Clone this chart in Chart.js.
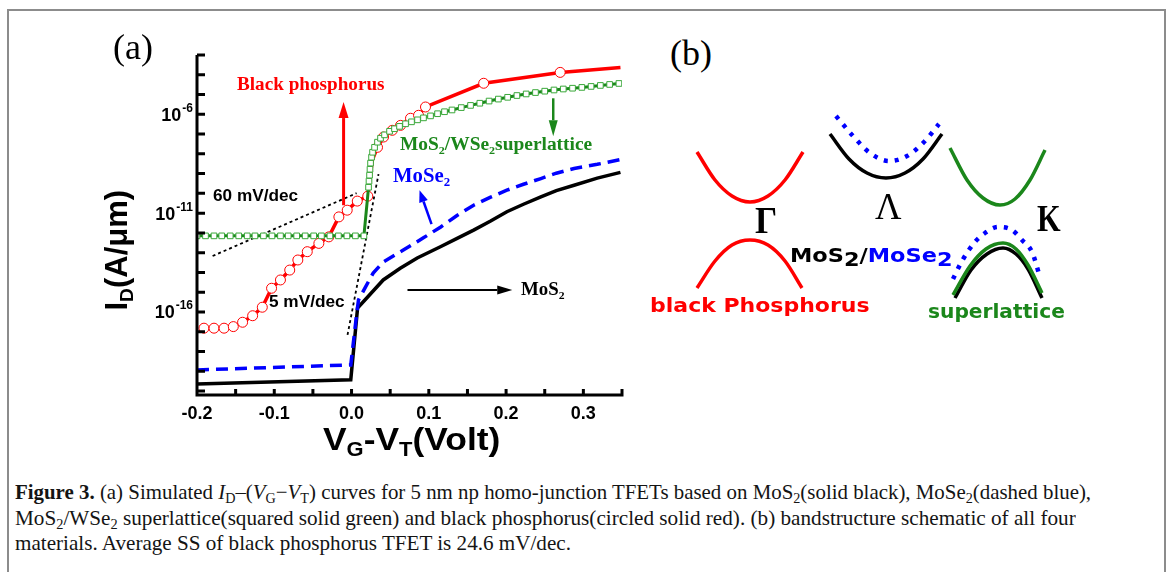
<!DOCTYPE html>
<html>
<head>
<meta charset="utf-8">
<script src="https://cdn.jsdelivr.net/npm/chart.js@4.4.1/dist/chart.umd.min.js"></script>
<style>
  html,body{margin:0;padding:0;background:#fff;}
  body{width:1170px;height:572px;position:relative;overflow:hidden;}
  #frame{position:absolute;left:7px;top:9px;width:1159px;height:620px;border:2px solid #8c8c8c;box-sizing:border-box;}
  canvas{position:absolute;}
  #ca{left:0;top:0;}
  #cb{left:640px;top:90px;}
  .t{position:absolute;white-space:nowrap;line-height:1;transform-origin:0 50%;}
  .serif{font-family:"Liberation Serif","Times New Roman",serif;}
  .sans{font-family:"Liberation Sans",Arial,sans-serif;}
  .dv{font-family:"DejaVu Sans",Verdana,sans-serif;}
  .t sub{font-size:62%;vertical-align:-0.32em;line-height:0;}
  .cap{position:absolute;left:15px;white-space:nowrap;font-size:21px;line-height:1;transform-origin:0 50%;font-family:"Liberation Serif","Times New Roman",serif;color:#141414;}
  .cap sub{font-size:68%;vertical-align:-0.28em;line-height:0;}
</style>
</head>
<body>
<div id="frame"></div>
<canvas id="ca" width="650" height="470"></canvas>
<canvas id="cb" width="440" height="250"></canvas>
<div id="labels"></div>
<div class="cap" id="cap1" style="top:482px" data-w="1076"><b>Figure 3.</b> (a) Simulated <i>I</i><sub>D</sub>–(<i>V</i><sub>G</sub>−<i>V</i><sub>T</sub>) curves for 5 nm np homo-junction TFETs based on MoS<sub>2</sub>(solid black), MoSe<sub>2</sub>(dashed blue),</div>
<div class="cap" id="cap2" style="top:508px" data-w="1061">MoS<sub>2</sub>/WSe<sub>2</sub> superlattice(squared solid green) and black phosphorus(circled solid red). (b) bandstructure schematic of all four</div>
<div class="cap" id="cap3" style="top:533px" data-w="556">materials. Average SS of black phosphorus TFET is 24.6 mV/dec.</div>

<script>
// ---------------- Panel (a) data: V_G - V_T (Volt) and log10 of I_D (A/µm) ----------------
const mos2Vg    = [-0.2, -0.001, 0.0078, 0.041, 0.063, 0.085, 0.115, 0.136, 0.158, 0.18, 0.201, 0.2225, 0.245, 0.265, 0.288, 0.318, 0.348];
const mos2LogId = [-19.64, -19.43, -15.80, -14.38, -13.79, -13.27, -12.70, -12.29, -11.86, -11.40, -10.93, -10.55, -10.18, -9.86, -9.59, -9.23, -8.94];

const mose2Vg    = [-0.2, -0.001, 0.0065, 0.009, 0.018, 0.028, 0.041, 0.067, 0.093, 0.115, 0.136, 0.158, 0.18, 0.201, 0.2225, 0.245, 0.265, 0.288, 0.318, 0.348];
const mose2LogId = [-18.93, -18.68, -16.15, -15.39, -14.74, -14.03, -13.47, -12.87, -12.25, -11.71, -11.13, -10.60, -10.19, -9.84, -9.54, -9.25, -8.98, -8.74, -8.53, -8.29];

const bpVg    = [-0.191, -0.178, -0.165, -0.153, -0.141, -0.128, -0.1155, -0.1035, -0.092, -0.080, -0.0695, -0.0573, -0.0423, -0.0294, -0.0164, -0.0056, 0.0074, 0.021, 0.027, 0.0336, 0.0414, 0.0527, 0.0634, 0.0763, 0.0867, 0.0957, 0.171, 0.270, 0.348];
const bpLogId = [-16.82, -16.82, -16.82, -16.74, -16.52, -16.19, -15.76, -14.80, -14.38, -13.88, -13.37, -12.95, -12.53, -12.20, -11.19, -10.85, -10.39, -10.14, -8.30, -7.67, -7.15, -6.81, -6.56, -6.20, -6.05, -5.63, -4.43, -3.88, -3.63];
const bpCircled = [1,1,1,1,1,1,1,1,1,1,1,1,1,1,1,1,1,1,0,1,1,1,1,1,1,1,1,1,0];

const slVg = [-0.2, -0.189, -0.178, -0.168, -0.157, -0.146, -0.135, -0.125, -0.114, -0.103, -0.092, -0.082, -0.071, -0.060, -0.049, -0.039, -0.028, -0.017, -0.006, 0.005, 0.016,
  0.022, 0.0226, 0.0233, 0.0239, 0.0246, 0.0259, 0.0272, 0.0298, 0.0336, 0.0375, 0.0427, 0.0492, 0.0556, 0.0621, 0.0699, 0.0776, 0.0854, 0.0931, 0.1022, 0.1113, 0.1203,
  0.13, 0.142, 0.154, 0.166, 0.178, 0.19, 0.202, 0.214, 0.226, 0.238, 0.25, 0.262, 0.274, 0.286, 0.298, 0.31, 0.322, 0.334, 0.346];
const slLogId = [-12.15, -12.15, -12.15, -12.15, -12.15, -12.15, -12.15, -12.15, -12.15, -12.15, -12.15, -12.15, -12.15, -12.15, -12.15, -12.15, -12.15, -12.15, -12.15, -12.15, -12.15,
  -9.69, -9.38, -9.08, -8.78, -8.47, -8.17, -7.92, -7.67, -7.41, -7.21, -7.04, -6.86, -6.73, -6.61, -6.48, -6.38, -6.28, -6.18, -6.08, -5.97, -5.87,
  -5.78, -5.66, -5.55, -5.44, -5.33, -5.23, -5.14, -5.05, -4.97, -4.90, -4.83, -4.77, -4.72, -4.68, -4.64, -4.59, -4.54, -4.49, -4.44];

// subthreshold-swing guide lines (V, log10 I)
const guide60Vg = [-0.1798, 0.0065];
const guide60LogId = [-13.17, -9.99];
const guide5Vg = [-0.0052, 0.0349];
const guide5LogId = [-17.16, -9.03];

// axis ticks
const xTickValues = [-0.2, -0.15, -0.1, -0.05, 0, 0.05, 0.1, 0.15, 0.2, 0.25, 0.3, 0.35];
const xLabelValues = [-0.2, -0.1, 0.0, 0.1, 0.2, 0.3];
const xLabelTexts = ['-0.2', '-0.1', '0.0', '0.1', '0.2', '0.3'];
const yDecades = [-20, -19, -18, -17, -16, -15, -14, -13, -12, -11, -10, -9, -8, -7, -6, -5, -4, -3];
const yLabelExps = [-6, -11, -16];

// annotation arrows in data units: [Vstart, logStart, Vend, logEnd]
const arrowRed   = [-0.0103, -10.60, -0.0103, -5.38];
const arrowGreen = [0.261, -5.19, 0.261, -7.11];
const arrowBlue  = [0.1035, -11.56, 0.088, -9.84];
const arrowBlack = [0.0724, -14.89, 0.208, -14.89];

// ---------------- Panel (b) schematic bands: k (arb.) and E (arb.) ----------------
const gammaCBk = [5.7, 7.5, 9.2, 11.0, 12.8, 14.5, 16.3];
const gammaCBe = [18.8, 16.0, 14.4, 13.8, 14.4, 16.0, 18.8];
const gammaVBk = [5.7, 7.5, 9.2, 11.0, 12.8, 14.5, 16.2];
const gammaVBe = [5.2, 7.9, 9.5, 10.0, 9.5, 7.9, 5.2];
const lambdaMoS2k = [19.0, 20.9, 22.7, 24.6, 26.5, 28.3, 30.2];
const lambdaMoS2e = [20.6, 18.1, 16.7, 16.2, 16.7, 18.1, 20.6];
const lambdaMoSe2k = [19.6, 21.3, 23.0, 24.9, 26.7, 28.4, 29.9];
const lambdaMoSe2e = [22.4, 20.4, 18.7, 17.9, 18.4, 19.8, 21.6];
const kCBslk = [31.0, 32.7, 34.3, 36.0, 37.5, 39.0, 40.5];
const kCBsle = [19.2, 16.0, 14.2, 13.5, 14.1, 16.0, 19.0];
const kVBslk = [31.3, 33.0, 34.6, 36.3, 37.6, 38.8, 40.2];
const kVBsle = [4.5, 7.4, 9.1, 9.7, 9.1, 7.5, 4.7];
const kVBmos2k = [31.5, 33.1, 34.7, 36.3, 37.6, 38.8, 40.2];
const kVBmos2e = [4.2, 7.0, 8.6, 9.2, 8.6, 7.1, 4.2];
const kVBmose2k = [31.3, 32.2, 33.5, 34.5, 35.8, 37.2, 38.2, 39.2, 40.0];
const kVBmose2e = [6.1, 7.9, 9.8, 10.7, 11.3, 11.0, 10.0, 8.8, 6.3];

// ---------------- helpers ----------------
const RED = '#ff0000', GREEN = '#1b871b', BLUE = '#0000ff', BLACK = '#000000';
const toPts = (xs, logs) => xs.map((v, i) => ({x: v, y: Math.pow(10, logs[i])}));
const toXY = (xs, ys) => xs.map((v, i) => ({x: v, y: ys[i]}));

function drawArrow(ctx, x1, y1, x2, y2, color, w, hl, hw) {
  const a = Math.atan2(y2 - y1, x2 - x1);
  const bx = x2 - hl * Math.cos(a), by = y2 - hl * Math.sin(a);
  ctx.strokeStyle = color; ctx.lineWidth = w; ctx.lineCap = 'butt';
  ctx.beginPath(); ctx.moveTo(x1, y1); ctx.lineTo(bx, by); ctx.stroke();
  ctx.fillStyle = color;
  ctx.beginPath(); ctx.moveTo(x2, y2);
  ctx.lineTo(bx + hw * Math.sin(a), by - hw * Math.cos(a));
  ctx.lineTo(bx - hw * Math.sin(a), by + hw * Math.cos(a));
  ctx.closePath(); ctx.fill();
}

const axesPlugin = {
  id: 'axesA',
  afterDatasetsDraw(chart) {
    const {ctx, scales: {x, y}} = chart;
    const P = (arr) => [x.getPixelForValue(arr[0]), y.getPixelForValue(Math.pow(10, arr[1])), x.getPixelForValue(arr[2]), y.getPixelForValue(Math.pow(10, arr[3]))];
    ctx.save();
    let a = P(arrowRed);   drawArrow(ctx, a[0], a[1], a[2], a[3], RED, 3, 16, 5);
    a = P(arrowGreen);     drawArrow(ctx, a[0], a[1], a[2], a[3], GREEN, 2.5, 16, 4.5);
    a = P(arrowBlue);      drawArrow(ctx, a[0], a[1], a[2], a[3], BLUE, 2.5, 12, 4.5);
    a = P(arrowBlack);     drawArrow(ctx, a[0], a[1], a[2], a[3], BLACK, 2, 15, 4.5);
    ctx.restore();
  },
  afterDraw(chart) {
    const {ctx, chartArea: {left, right, top, bottom}, scales: {x, y}} = chart;
    ctx.save();
    ctx.strokeStyle = '#000'; ctx.lineWidth = 3; ctx.lineCap = 'butt';
    ctx.beginPath();
    ctx.moveTo(left, top); ctx.lineTo(left, bottom + 1.5);
    ctx.moveTo(left - 1.5, bottom); ctx.lineTo(right + 1.5, bottom);
    for (const k of yDecades) {
      const py = y.getPixelForValue(Math.pow(10, k));
      ctx.moveTo(left, py); ctx.lineTo(left + 8, py);
    }
    for (const v of xTickValues) {
      const px = x.getPixelForValue(v);
      ctx.moveTo(px, bottom); ctx.lineTo(px, bottom - 6);
    }
    ctx.stroke();
    ctx.fillStyle = '#000';
    ctx.font = 'bold 18px "Liberation Sans", Arial, sans-serif';
    ctx.textAlign = 'center'; ctx.textBaseline = 'alphabetic';
    xLabelValues.forEach((v, i) => ctx.fillText(xLabelTexts[i], x.getPixelForValue(v), bottom + 24));
    for (const k of yLabelExps) {
      const py = y.getPixelForValue(Math.pow(10, k));
      const exp = String(k);
      ctx.font = 'bold 12px "Liberation Sans", Arial, sans-serif';
      ctx.textAlign = 'right';
      const ew = ctx.measureText(exp).width;
      ctx.fillText(exp, left - 4, py - 2.5);
      ctx.font = 'bold 18px "Liberation Sans", Arial, sans-serif';
      ctx.fillText('10', left - 5 - ew, py + 6.5);
    }
    ctx.restore();
  }
};

// ---------------- Panel (a) chart ----------------
new Chart(document.getElementById('ca'), {
  type: 'line',
  data: {
    datasets: [
      { label: 'MoS2/WSe2 superlattice', data: toPts(slVg, slLogId), borderColor: GREEN, borderWidth: 3, tension: 0,
        pointStyle: 'rect', pointRadius: 4, pointBorderWidth: 1, pointBorderColor: '#3aa83a', pointBackgroundColor: '#ffffff' },
      { label: 'Black phosphorus', data: toPts(bpVg, bpLogId), borderColor: RED, borderWidth: 3.5, tension: 0,
        pointStyle: 'circle', pointRadius: bpCircled.map(c => c ? 5 : 0), pointBorderWidth: 1, pointBorderColor: RED, pointBackgroundColor: '#ffffff' },
      { label: 'MoSe2', data: toPts(mose2Vg, mose2LogId), borderColor: BLUE, borderWidth: 3.5, borderDash: [12, 7],
        tension: 0, pointRadius: 0 },
      { label: 'MoS2', data: toPts(mos2Vg, mos2LogId), borderColor: BLACK, borderWidth: 3.5,
        tension: 0, pointRadius: 0 },
      { label: '60 mV/dec', data: toPts(guide60Vg, guide60LogId), borderColor: '#000', borderWidth: 1.8, borderDash: [3, 3], pointRadius: 0 },
      { label: '5 mV/dec', data: toPts(guide5Vg, guide5LogId), borderColor: '#000', borderWidth: 1.8, borderDash: [3, 3], pointRadius: 0 }
    ]
  },
  options: {
    responsive: false, animation: false, events: [],
    layout: { padding: { top: 55, right: 28, left: 0, bottom: 0 } },
    plugins: { legend: { display: false }, tooltip: { enabled: false } },
    scales: {
      x: { type: 'linear', min: -0.2, max: 0.35, ticks: { display: false }, grid: { display: false }, border: { display: false },
           afterFit: s => { s.height = 75; } },
      y: { type: 'logarithmic', min: Math.pow(10, -20.2), max: 1e-3, ticks: { display: false }, grid: { display: false }, border: { display: false },
           afterFit: s => { s.width = 197; } }
    }
  },
  plugins: [axesPlugin]
});

// ---------------- Panel (b) chart ----------------
const band = (k, e, color, extra) => Object.assign({ data: toXY(k, e), borderColor: color, borderWidth: 3.5, pointRadius: 0, cubicInterpolationMode: 'monotone' }, extra || {});
new Chart(document.getElementById('cb'), {
  type: 'line',
  data: {
    datasets: [
      band(lambdaMoSe2k, lambdaMoSe2e, BLUE, { borderWidth: 4.5, borderDash: [4, 7] }),
      band(kVBmose2k, kVBmose2e, BLUE, { borderWidth: 4.5, borderDash: [4, 7] }),
      band(kVBslk, kVBsle, GREEN),
      band(kVBmos2k, kVBmos2e, BLACK),
      band(lambdaMoS2k, lambdaMoS2e, BLACK),
      band(kCBslk, kCBsle, GREEN),
      band(gammaCBk, gammaCBe, RED),
      band(gammaVBk, gammaVBe, RED)
    ]
  },
  options: {
    responsive: false, animation: false, events: [],
    layout: { padding: 0 },
    plugins: { legend: { display: false }, tooltip: { enabled: false } },
    scales: { x: { type: 'linear', display: false, min: 0, max: 44 }, y: { type: 'linear', display: false, min: 0, max: 25 } }
  }
});

// ---------------- text labels ----------------
const labelSpecs = [
  { h: '(a)', x: 113, cy: 50, size: 36, cls: 'serif', color: '#000', k: 0.58 },
  { h: '(b)', x: 670, cy: 56, size: 36, cls: 'serif', color: '#000', k: 0.58 },
  { h: 'Black phosphorus', x: 237, cy: 83.5, size: 18, cls: 'serif', bold: 1, color: RED, w: 148 },
  { h: 'MoS<sub>2</sub>/WSe<sub>2</sub>superlattice', x: 400, cy: 143.5, size: 18, cls: 'serif', bold: 1, color: GREEN, w: 192 },
  { h: 'MoSe<sub>2</sub>', x: 393, cy: 175, size: 20, cls: 'serif', bold: 1, color: BLUE, w: 57 },
  { h: 'MoS<sub>2</sub>', x: 521, cy: 288.5, size: 18, cls: 'serif', bold: 1, color: '#000', w: 44 },
  { h: '60 mV/dec', x: 213, cy: 195.5, size: 17, cls: 'sans', bold: 1, color: '#000', w: 85 },
  { h: '5 mV/dec', x: 269, cy: 301.5, size: 17, cls: 'sans', bold: 1, color: '#000', w: 76 },
  { h: 'Γ', x: 755, cy: 219.5, size: 38, cls: 'serif', bold: 1, color: '#000', w: 22 },
  { h: 'Λ', x: 875, cy: 205.5, size: 38, cls: 'serif', color: '#000', w: 27 },
  { h: 'K', x: 1037, cy: 217.5, size: 38, cls: 'serif', bold: 1, color: '#000', w: 24 },
  { h: 'MoS<span style="vertical-align:-4px">2</span>/<span style="color:#0000ff">MoSe<span style="vertical-align:-4px">2</span></span>', x: 790, cy: 255, size: 19, cls: 'dv', bold: 1, color: '#000', w: 163 },
  { h: 'black Phosphorus', x: 650, cy: 305, size: 19, cls: 'dv', bold: 1, color: RED, w: 220 },
  { h: 'superlattice', x: 928, cy: 311, size: 19, cls: 'dv', bold: 1, color: GREEN, w: 137 },
  { h: 'V<sub>G</sub>-V<sub>T</sub>(Volt)', x: 323, cy: 439, size: 32, cls: 'sans', bold: 1, color: '#000', w: 177 }
];
const host = document.getElementById('labels');
for (const s of labelSpecs) {
  const d = document.createElement('div');
  d.className = 't ' + s.cls;
  d.innerHTML = s.h;
  d.style.left = s.x + 'px';
  d.style.top = (s.cy - (s.k || 0.5) * s.size) + 'px';
  d.style.fontSize = s.size + 'px';
  d.style.fontWeight = s.bold ? 'bold' : 'normal';
  d.style.color = s.color;
  host.appendChild(d);
  if (s.w) d.style.transform = 'scaleX(' + (s.w / d.offsetWidth) + ')';
}
// rotated y-axis title
const yt = document.createElement('div');
yt.className = 't sans';
yt.innerHTML = 'I<sub>D</sub>(A/μm)';
yt.style.cssText += 'font-size:31px;font-weight:bold;color:#000;left:116px;top:250px;transform-origin:0 0;';
host.appendChild(yt);
yt.style.transform = 'rotate(-90deg) translate(' + (-yt.offsetWidth / 2) + 'px,' + (-yt.offsetHeight / 2) + 'px)';

// caption lines fitted to their measured widths
for (const id of ['cap1', 'cap2', 'cap3']) {
  const el = document.getElementById(id);
  el.style.transform = 'scaleX(' + (parseFloat(el.dataset.w) / el.offsetWidth) + ')';
}
</script>
</body>
</html>
